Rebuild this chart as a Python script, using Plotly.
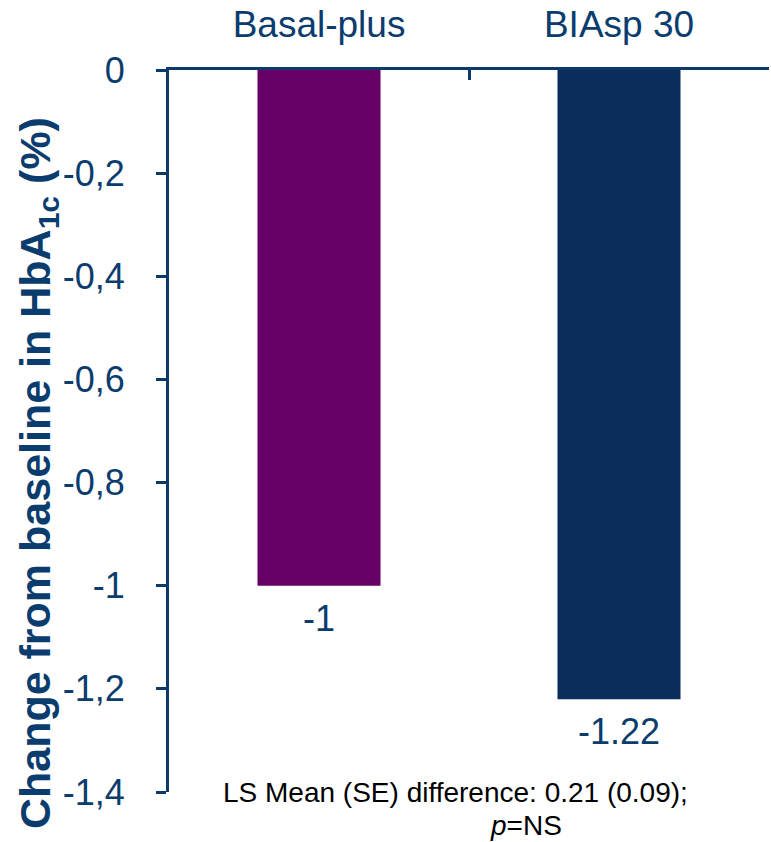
import plotly.graph_objects as go

# Data
categories = ["Basal-plus", "BIAsp 30"]
values = [-1.0, -1.22]
bar_colors = ["#660066", "#0B2D5B"]
ytick_vals = [0, -0.2, -0.4, -0.6, -0.8, -1.0, -1.2, -1.4]
ytick_text = ["0", "-0,2", "-0,4", "-0,6", "-0,8", "-1", "-1,2", "-1,4"]
y_title = "<b>Change from baseline in HbA<sub>1c</sub> (%)</b>"
footnote_line1 = "LS Mean (SE) difference: 0.21 (0.09);"
footnote_line2 = "<i>p</i>=NS"

FONT = "Liberation Sans, Arial, sans-serif"
AXIS = "#0E3A6B"
TEXT = "#0B3C6E"

fig = go.Figure(
    go.Bar(
        x=categories,
        y=values,
        width=0.41,
        marker=dict(color=bar_colors, line=dict(width=0)),
        hoverinfo="skip",
    )
)

# value labels under each bar end
for cat, val in zip(categories, values):
    fig.add_annotation(
        x=cat, y=val, xref="x", yref="y",
        text=f"{val:g}", showarrow=False,
        yanchor="top", yshift=-10,
        font=dict(family=FONT, size=36, color=TEXT),
    )

# rotated y-axis title
fig.add_annotation(
    x=-0.218, y=0.442, xref="paper", yref="paper",
    text=y_title, showarrow=False, textangle=-90,
    xanchor="center", yanchor="middle",
    font=dict(family=FONT, size=43, color=TEXT),
)

# footnote
fig.add_annotation(
    x=0.478, y=0.0, xref="paper", yref="paper",
    text=footnote_line1, showarrow=False,
    xanchor="center", yanchor="middle",
    font=dict(family=FONT, size=28, color="#000000"),
)
fig.add_annotation(
    x=0.595, y=-0.046, xref="paper", yref="paper",
    text=footnote_line2, showarrow=False,
    xanchor="center", yanchor="middle",
    font=dict(family=FONT, size=28, color="#000000"),
)

fig.update_layout(
    width=771,
    height=842,
    margin=dict(l=169, r=2, t=70, b=50),
    paper_bgcolor="white",
    plot_bgcolor="white",
    showlegend=False,
    font=dict(family=FONT, color=TEXT),
    xaxis=dict(
        side="top",
        range=[-0.5, 1.5],
        showline=True, linecolor=AXIS, linewidth=3,
        ticks="inside", tickson="boundaries", ticklen=10,
        tickwidth=3, tickcolor=AXIS,
        tickfont=dict(family=FONT, size=37, color=TEXT),
        ticklabelstandoff=15,
        showgrid=False, zeroline=False, fixedrange=True,
    ),
    yaxis=dict(
        range=[-1.4, 0],
        tickvals=ytick_vals, ticktext=ytick_text,
        showline=True, linecolor=AXIS, linewidth=3,
        ticks="outside", ticklen=10, tickwidth=3, tickcolor=AXIS,
        tickfont=dict(family=FONT, size=36, color=TEXT),
        ticklabelstandoff=24,
        showgrid=False, zeroline=False, fixedrange=True,
    ),
)

fig.write_html("out.html")
